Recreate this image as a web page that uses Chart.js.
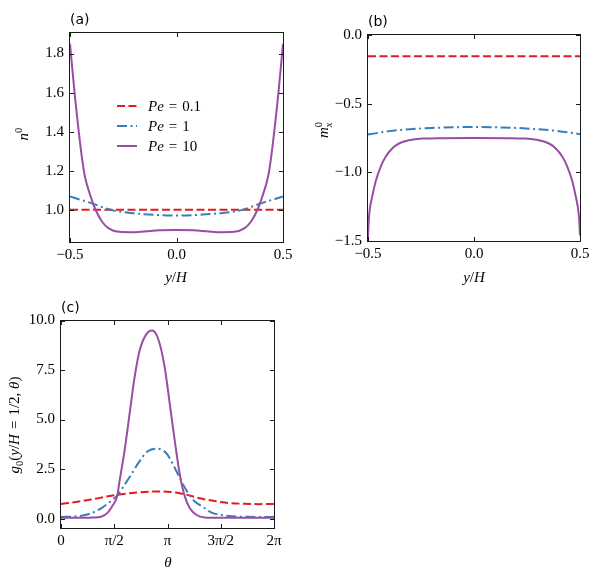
<!DOCTYPE html>
<html>
<head>
<meta charset="utf-8">
<script src="https://cdn.jsdelivr.net/npm/chart.js@4.4.1/dist/chart.umd.min.js"></script>
<style>
  body { margin: 0; background: #fff; }
  #wrap { position: relative; width: 596px; height: 573px; }
  .panel { position: absolute; }
</style>
</head>
<body>
<div id="wrap">
  <div class="panel" style="left:0;top:0"><canvas id="chartA" width="298" height="290"></canvas></div>
  <div class="panel" style="left:298px;top:0"><canvas id="chartB" width="298" height="290"></canvas></div>
  <div class="panel" style="left:0;top:290px"><canvas id="chartC" width="298" height="283"></canvas></div>
</div>
<script>
// ---- datos ----
let etiquetasPe = ["0.1", "1", "10"];

// panel (a): n^0 vs y/H
let yA = [-0.5, -0.49, -0.475, -0.46, -0.445, -0.43, -0.405, -0.38, -0.35, -0.32, -0.27, -0.21, -0.15, -0.08, 0,
          0.08, 0.15, 0.21, 0.27, 0.32, 0.35, 0.38, 0.405, 0.43, 0.445, 0.46, 0.475, 0.49, 0.5];
let nA10 = [1.85, 1.73, 1.56, 1.41, 1.275, 1.17, 1.075, 1.0, 0.94, 0.906, 0.887, 0.885, 0.889, 0.895, 0.897,
            0.895, 0.889, 0.885, 0.887, 0.906, 0.94, 1.0, 1.075, 1.17, 1.275, 1.41, 1.56, 1.73, 1.85];
let yAb = [-0.5, -0.4, -0.3, -0.2, -0.1, 0, 0.1, 0.2, 0.3, 0.4, 0.5];
let nA1 = [1.068, 1.034, 0.997, 0.982, 0.974, 0.971, 0.974, 0.982, 0.997, 1.034, 1.068];
let nA01 = [1.0, 1.0, 1.0, 1.0, 1.0, 1.0, 1.0, 1.0, 1.0, 1.0, 1.0];
let ticksXA = [-0.5, 0, 0.5];
let ticksYA = [1.0, 1.2, 1.4, 1.6, 1.8];

// panel (b): m_x^0 vs y/H
let yB = [-0.5, -0.495, -0.48, -0.464, -0.44, -0.417, -0.386, -0.354, -0.307, -0.244, -0.15, 0,
          0.15, 0.244, 0.307, 0.354, 0.386, 0.417, 0.44, 0.464, 0.48, 0.495, 0.5];
let mB10 = [-1.47, -1.32, -1.176, -1.067, -0.958, -0.886, -0.826, -0.79, -0.766, -0.754, -0.751, -0.75,
            -0.751, -0.754, -0.766, -0.79, -0.826, -0.886, -0.958, -1.067, -1.176, -1.32, -1.46];
let mB1 = [-0.725, -0.700, -0.686, -0.677, -0.672, -0.670, -0.672, -0.677, -0.686, -0.700, -0.722];
let mB01 = [-0.155, -0.155, -0.155, -0.155, -0.155, -0.155, -0.155, -0.155, -0.155, -0.155, -0.155];
let ticksYB = [-1.5, -1.0, -0.5, 0.0];

// panel (c): g_0 vs theta (theta en unidades de pi)
let thC10 = [0, 0.2, 0.3, 0.376, 0.439, 0.486, 0.527, 0.549, 0.596, 0.643, 0.69, 0.737, 0.80, 0.856, 0.909,
             0.972, 1.022, 1.069, 1.116, 1.163, 1.21, 1.273, 1.35, 1.5, 2];
let gC10 = [0.04, 0.04, 0.05, 0.09, 0.3, 0.67, 1.13, 1.87, 3.4, 5.25, 7.1, 8.46, 9.3, 9.5, 9.13,
            7.7, 5.76, 3.9, 2.21, 1.11, 0.52, 0.18, 0.06, 0.04, 0.04];
let thC1 = [0, 0.157, 0.282, 0.376, 0.47, 0.533, 0.596, 0.658, 0.737, 0.815, 0.9, 0.987, 1.069, 1.132,
            1.194, 1.257, 1.335, 1.414, 1.508, 1.7, 2];
let gC1 = [0.08, 0.12, 0.27, 0.52, 0.89, 1.2, 1.7, 2.21, 2.89, 3.4, 3.53, 3.31, 2.55, 1.87,
           1.28, 0.86, 0.58, 0.3, 0.18, 0.09, 0.08];
let thC01 = [0, 0.14, 0.282, 0.4, 0.502, 0.69, 0.909, 1.0, 1.16, 1.316, 1.44, 1.536, 1.72, 1.86, 2];
let gC01 = [0.74, 0.84, 0.96, 1.08, 1.18, 1.30, 1.37, 1.36, 1.23, 1.01, 0.89, 0.81, 0.745, 0.73, 0.74];
let ticksXC = [0, 0.5, 1, 1.5, 2];
let etiquetasXC = ["0", "π/2", "π", "3π/2", "2π"];
let ticksYC = [0, 2.5, 5, 7.5, 10];

// ---- estilos ----
let colores = ["#e41a1c", "#377eb8", "#984ea3"];
let trazos = [[8, 3.5], [10, 3.5, 2, 3.5], []];
let fuenteSerif = '"Liberation Serif", "Times New Roman", serif';

function serie(xs, ys, i) {
    return {
        label: "Pe = " + etiquetasPe[i],
        data: xs.map((x, k) => ({ x: x, y: ys[k] })),
        borderColor: colores[i],
        borderWidth: 2,
        borderDash: trazos[i],
        pointRadius: 0,
        cubicInterpolationMode: "monotone",
        fill: false,
        order: 3 - i
    };
}

function fmt(v) {
    return v.toFixed(1).replace("-", "\u2212");
}

// texto con cursiva, sub y superindices
function drawMath(ctx, parts, x, y, rot, align) {
    const size = 15;
    const fontOf = p => (p.it ? "italic " : "") + ((p.sub || p.sup) ? size * 0.7 : size) + "px " + fuenteSerif;
    let w = 0;
    for (const p of parts) {
        ctx.font = fontOf(p);
        p.w = ctx.measureText(p.t).width;
        if (!p.stack) w += p.w;
    }
    ctx.save();
    ctx.translate(x, y);
    ctx.rotate(rot);
    ctx.fillStyle = "#000";
    ctx.textBaseline = "alphabetic";
    ctx.textAlign = "left";
    let cx = align === "left" ? 0 : -w / 2;
    for (const p of parts) {
        ctx.font = fontOf(p);
        let dy = 5;
        if (p.sub) dy += size * 0.25;
        if (p.sup) dy -= size * 0.42;
        ctx.fillText(p.t, cx, dy);
        if (!p.stack) cx += p.w;
    }
    ctx.restore();
}

let extras = {
    chartA: {
        panel: "(a)",
        xTitle: { parts: [{ t: "y", it: 1 }, { t: "/" }, { t: "H", it: 1 }], x: 176, y: 277 },
        yTitle: { parts: [{ t: "n", it: 1 }, { t: "0", sup: 1 }], x: 23, y: 134 },
        legend: { x: 117, y: 106 }
    },
    chartB: {
        panel: "(b)",
        xTitle: { parts: [{ t: "y", it: 1 }, { t: "/" }, { t: "H", it: 1 }], x: 176, y: 277 },
        yTitle: { parts: [{ t: "m", it: 1 }, { t: "x", it: 1, sub: 1, stack: 1 }, { t: "0", sup: 1 }], x: 25, y: 130 }
    },
    chartC: {
        panel: "(c)",
        xTitle: { parts: [{ t: "θ", it: 1 }], x: 168, y: 272 },
        yTitle: {
            parts: [{ t: "g", it: 1 }, { t: "0", sub: 1 }, { t: "(" }, { t: "y", it: 1 }, { t: "/" }, { t: "H", it: 1 },
                    { t: "\u2004=\u20041/2, " }, { t: "θ", it: 1 }, { t: ")" }],
            x: 14, y: 135
        }
    }
};

const decoPlugin = {
    id: "deco",
    afterDraw(chart) {
        const cfg = extras[chart.canvas.id];
        const ctx = chart.ctx;
        const a = chart.chartArea;
        ctx.save();
        ctx.setLineDash([]);
        ctx.strokeStyle = "#1a1a1a";
        ctx.lineWidth = 1;
        ctx.strokeRect(a.left - 0.5, a.top - 0.5, a.right - a.left + 1, a.bottom - a.top + 1);

        // ticks hacia adentro en los cuatro lados
        const tl = 4;
        ctx.beginPath();
        for (const t of chart.scales.x.ticks) {
            const px = Math.round(chart.scales.x.getPixelForValue(t.value)) + 0.5;
            ctx.moveTo(px, a.bottom); ctx.lineTo(px, a.bottom - tl);
            ctx.moveTo(px, a.top); ctx.lineTo(px, a.top + tl);
        }
        for (const t of chart.scales.y.ticks) {
            const py = Math.round(chart.scales.y.getPixelForValue(t.value)) + 0.5;
            ctx.moveTo(a.left, py); ctx.lineTo(a.left + tl, py);
            ctx.moveTo(a.right, py); ctx.lineTo(a.right - tl, py);
        }
        ctx.stroke();

        // etiqueta del panel
        ctx.fillStyle = "#000";
        ctx.font = '14px "DejaVu Sans", sans-serif';
        ctx.textBaseline = "middle";
        ctx.textAlign = "left";
        ctx.fillText(cfg.panel, a.left, a.top - 13);

        drawMath(ctx, cfg.xTitle.parts, cfg.xTitle.x, cfg.xTitle.y, 0);
        drawMath(ctx, cfg.yTitle.parts, cfg.yTitle.x, cfg.yTitle.y, -Math.PI / 2);

        if (cfg.legend) {
            chart.data.datasets.forEach((ds, i) => {
                const y = cfg.legend.y + i * 20;
                ctx.beginPath();
                ctx.strokeStyle = ds.borderColor;
                ctx.lineWidth = 2;
                ctx.setLineDash(ds.borderDash);
                ctx.moveTo(cfg.legend.x, y);
                ctx.lineTo(cfg.legend.x + 20, y);
                ctx.stroke();
                const rest = ds.label.replace("Pe", "").replace(" = ", "\u2004=\u2004");
                drawMath(ctx, [{ t: "Pe", it: 1 }, { t: rest }], cfg.legend.x + 31, y, 0, "left");
            });
        }
        ctx.restore();
    }
};

function ejes(xMin, xMax, yMin, yMax, xTicks, yTicks, xLabel, geo) {
    const tickFont = { family: fuenteSerif, size: 15 };
    return {
        responsive: false,
        animation: false,
        devicePixelRatio: 1,
        layout: { padding: { left: 0, top: geo.top, right: geo.right, bottom: 0 } },
        plugins: { legend: { display: false }, tooltip: { enabled: false } },
        scales: {
            x: {
                type: "linear", min: xMin, max: xMax,
                grid: { display: false, drawTicks: false },
                border: { display: false },
                afterBuildTicks: s => { s.ticks = xTicks.map(v => ({ value: v })); },
                afterFit: s => { s.height = geo.xh; },
                ticks: { color: "#000", font: tickFont, padding: 4, autoSkip: false, maxRotation: 0, callback: xLabel }
            },
            y: {
                type: "linear", min: yMin, max: yMax,
                grid: { display: false, drawTicks: false },
                border: { display: false },
                afterBuildTicks: s => { s.ticks = yTicks.map(v => ({ value: v })); },
                afterFit: s => { s.width = geo.yw; },
                ticks: { color: "#000", font: tickFont, padding: 6, autoSkip: false, callback: v => fmt(v) }
            }
        }
    };
}

new Chart(document.querySelector("#chartA"), {
    type: "line",
    data: { datasets: [serie(yAb, nA01, 0), serie(yAb, nA1, 1), serie(yA, nA10, 2)] },
    options: ejes(-0.5, 0.5, 0.835, 1.905, ticksXA, ticksYA, v => fmt(v), { top: 33, right: 15, xh: 48, yw: 70 }),
    plugins: [decoPlugin]
});

new Chart(document.querySelector("#chartB"), {
    type: "line",
    data: { datasets: [serie(yAb, mB01, 0), serie(yAb, mB1, 1), serie(yB, mB10, 2)] },
    options: ejes(-0.5, 0.5, -1.5, 0.0, ticksXA, ticksYB, v => fmt(v), { top: 35, right: 16, xh: 49, yw: 70 }),
    plugins: [decoPlugin]
});

new Chart(document.querySelector("#chartC"), {
    type: "line",
    data: { datasets: [serie(thC01, gC01, 0), serie(thC1, gC1, 1), serie(thC10, gC10, 2)] },
    options: ejes(0, 2, -0.475, 9.975, ticksXC, ticksYC, (v, i) => etiquetasXC[i], { top: 31, right: 24, xh: 45, yw: 61 }),
    plugins: [decoPlugin]
});
</script>
</body>
</html>
